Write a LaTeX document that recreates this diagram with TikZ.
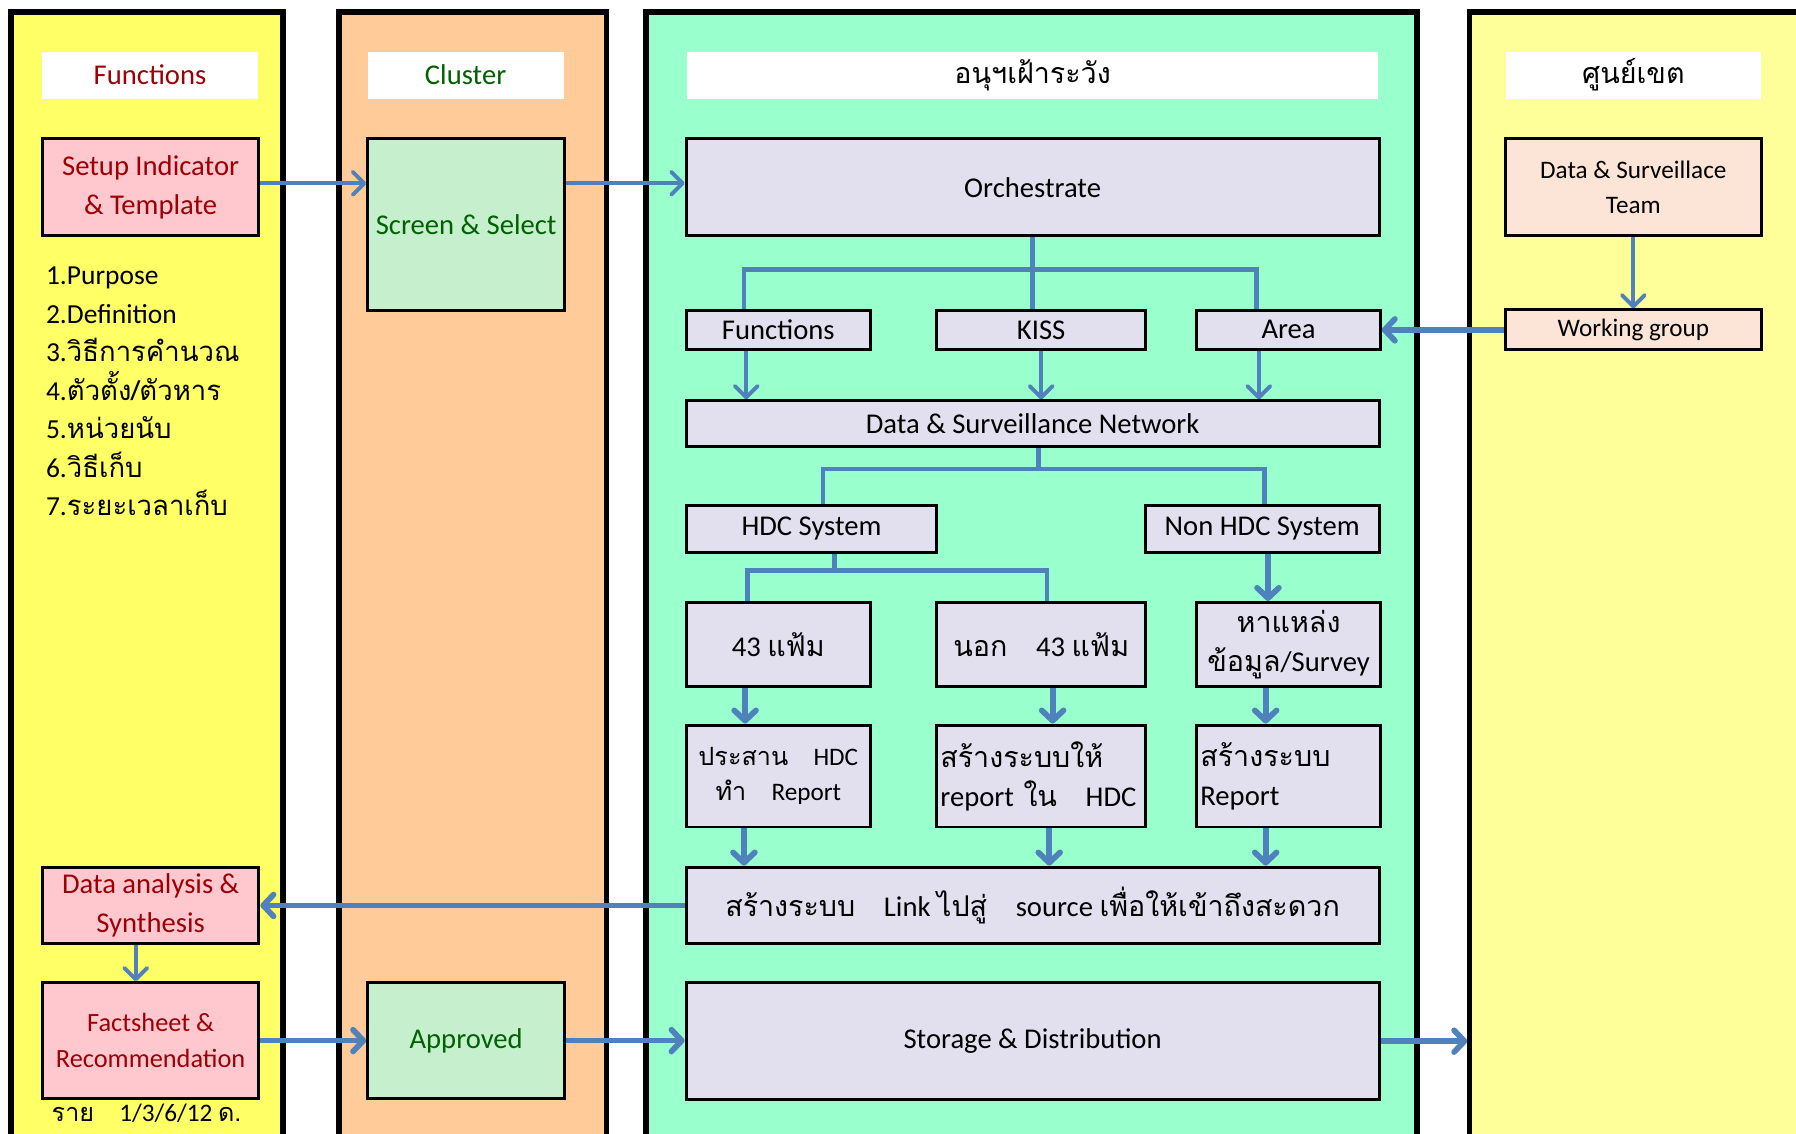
\documentclass[tikz,border=0pt]{standalone}
\usepackage{fontspec}
\setmainfont{Carlito}
\newfontfamily\thai[Script=Thai]{Loma}
\usetikzlibrary{arrows.meta,positioning}
\definecolor{funcyellow}{HTML}{FFFF66}
\definecolor{clusterorange}{HTML}{FFCC99}
\definecolor{survgreen}{HTML}{99FFCC}
\definecolor{zoneyellow}{HTML}{FFFF99}
\definecolor{pinkbox}{HTML}{FFC7CE}
\definecolor{pinktext}{HTML}{9C0006}
\definecolor{greenbox}{HTML}{C6EFCE}
\definecolor{greentext}{HTML}{006100}
\definecolor{lavender}{HTML}{E2E0EE}
\definecolor{peach}{HTML}{FCE4D6}
\definecolor{arrowblue}{HTML}{4F81BD}

\begin{document}
\begin{tikzpicture}[x=1pt,y=-1pt,
	col/.style={draw, line width=5pt},
	head/.style={fill=white, minimum height=41pt, inner sep=0pt, font=\fontsize{25}{30}\selectfont},
	box/.style={draw, line width=2.6pt, align=center, inner sep=1pt, font=\fontsize{25}{34}\selectfont},
	redbox/.style={box, fill=pinkbox, text=pinktext},
	grnbox/.style={box, fill=greenbox, text=greentext},
	lavbox/.style={box, fill=lavender},
	peachbox/.style={box, fill=peach, font=\fontsize{22}{31}\selectfont},
	link/.style={draw=arrowblue, line width=4pt},
	arr/.style={draw=arrowblue, line width=3.4pt, -{Straight Barb[length=10pt,width=20pt,round]}},
	arrthick/.style={draw=arrowblue, line width=5pt, -{Straight Barb[length=9pt,width=19pt,round]}}]
	\useasboundingbox (0,0) rectangle (1568,990);
	\clip (0,0) rectangle (1568,990);

	\draw[col, fill=funcyellow] (9.5,10.5) rectangle (247,1020);
	\draw[col, fill=clusterorange] (296,10.5) rectangle (529.5,1020);
	\draw[col, fill=survgreen] (564,10.5) rectangle (1237,1020);
	\draw[col, fill=zoneyellow] (1283,10.5) rectangle (1620,1020);
	\coordinate (zone) at (1281,907);

	\node[head, minimum width=188pt, text=pinktext] (hfun) at (131,65.5) {Functions};
	\node[head, minimum width=171pt, text=greentext] (hclu) at (406.5,65.5) {Cluster};
	\node[head, minimum width=603pt] (hsurv) at (901.5,65.5) {\thai อนุฯเฝ้าระวัง};
	\node[head, minimum width=222pt] (hzone) at (1426,65.5) {\thai ศูนย์เขต};

	\node[redbox, minimum width=189pt, minimum height=85pt] (setup) at (131.5,163.5) {Setup Indicator\\ \& Template};
	\node[anchor=north west, align=left, inner sep=0pt, font=\fontsize{24}{33.6}\selectfont] (items) at (40,233) {1.Purpose\\2.Definition\\3.{\thai วิธีการคำนวณ}\\4.{\thai ตัวตั้ง/ตัวหาร}\\5.{\thai หน่วยนับ}\\6.{\thai วิธีเก็บ}\\7.{\thai ระยะเวลาเก็บ}};
	\node[redbox, minimum width=189pt, minimum height=67pt] (ana) at (131.5,790.5) {Data analysis \&\\ Synthesis};
	\node[redbox, minimum width=189pt, minimum height=101pt, font=\fontsize{23}{31}\selectfont] (fact) at (131.5,908.5) {Factsheet \&\\ Recommendation};
	\node[font=\fontsize{22}{26}\selectfont] (freq) at (128,972) {{\thai ราย}\quad 1/3/6/12 {\thai ด.}};

	\node[grnbox, minimum width=172pt, minimum height=150pt] (screen) at (407,196) {Screen \& Select};
	\node[grnbox, minimum width=172pt, minimum height=101pt] (appr) at (407,908.5) {Approved};

	\node[lavbox, minimum width=605pt, minimum height=85pt] (orch) at (901.5,163.5) {Orchestrate};
	\node[lavbox, minimum width=161pt, minimum height=34pt] (fun) at (679.5,288) {Functions};
	\node[lavbox, minimum width=182pt, minimum height=34pt] (kiss) at (909,288) {KISS};
	\node[lavbox, minimum width=160pt, minimum height=34pt] (area) at (1125,288) {Area};
	\node[lavbox, minimum width=605pt, minimum height=40pt] (dsn) at (901.5,370) {Data \& Surveillance Network};
	\node[lavbox, minimum width=219pt, minimum height=41pt] (hdc) at (708.5,461.5) {HDC System};
	\node[lavbox, minimum width=204pt, minimum height=41pt] (nonhdc) at (1102,461.5) {Non HDC System};
	\node[lavbox, minimum width=161pt, minimum height=73pt] (f43) at (679.5,562.5) {43 {\thai แฟ้ม}};
	\node[lavbox, minimum width=182pt, minimum height=73pt] (out43) at (909,562.5) {{\thai นอก}\quad 43 {\thai แฟ้ม}};
	\node[lavbox, minimum width=160pt, minimum height=73pt] (survey) at (1125,562.5) {{\thai หาแหล่ง}\\{\thai ข้อมูล}/Survey};
	\node[lavbox, minimum width=161pt, minimum height=89pt, font=\fontsize{22}{31}\selectfont] (hdcrep) at (679.5,677.5) {{\thai ประสาน}\quad HDC\\{\thai ทำ}\quad Report};
	\node[lavbox, minimum width=182pt, minimum height=89pt, align=left, text width=176pt] (inhdc) at (909,677.5) {{\thai สร้างระบบให้}\\report {\thai ใน}\quad HDC};
	\node[lavbox, minimum width=160pt, minimum height=89pt, align=left, text width=154pt] (rep) at (1125,677.5) {{\thai สร้างระบบ}\\Report};
	\node[lavbox, minimum width=605pt, minimum height=67pt] (srcl) at (901.5,790.5) {{\thai สร้างระบบ}\quad Link {\thai ไปสู่}\quad source {\thai เพื่อให้เข้าถึงสะดวก}};
	\node[lavbox, minimum width=605pt, minimum height=102pt] (store) at (901.5,909) {Storage \& Distribution};

	\node[peachbox, minimum width=224pt, minimum height=85pt] (team) at (1426,163.5) {Data \& Surveillace\\Team};
	\node[peachbox, minimum width=224pt, minimum height=35pt] (wg) at (1426,288) {Working group};

	\draw[arr] (setup.east |- 0,160) -- (screen.west |- 0,160);
	\draw[arr] (screen.east |- 0,160) -- (orch.west |- 0,160);
	\draw[link] (orch.south) -- ++(0,28) coordinate (oj);
	\draw[link] ([xshift=-30pt]fun.north) |- (oj) -| ([xshift=-28pt]area.north);
	\draw[link] (oj) -- (oj |- kiss.north);
	\draw[arr] ([xshift=-28pt]fun.south) -- ([xshift=-28pt]fun.south |- dsn.north);
	\draw[arr] (kiss.south) -- (kiss.south |- dsn.north);
	\draw[arr] ([xshift=-26pt]area.south) -- ([xshift=-26pt]area.south |- dsn.north);
	\draw[arrthick] (wg.west) -- (area.east);
	\draw[arr] (team.south) -- (wg.north);

	\draw[link] ([xshift=5pt]dsn.south) -- ++(0,18) coordinate (dj);
	\draw[link] ([xshift=10pt]hdc.north) |- (dj) -| ([xshift=2pt]nonhdc.north);
	\draw[link] ([xshift=20pt]hdc.south) -- ++(0,15) coordinate (hj);
	\draw[link] ([xshift=-27pt]f43.north) |- (hj) -| ([xshift=5pt]out43.north);
	\draw[arrthick] ([xshift=5pt]nonhdc.south) -- ([xshift=5pt]nonhdc.south |- survey.north);

	\draw[arrthick] ([xshift=-29pt]f43.south) -- ([xshift=-29pt]f43.south |- hdcrep.north);
	\draw[arrthick] ([xshift=10pt]out43.south) -- ([xshift=10pt]out43.south |- inhdc.north);
	\draw[arrthick] ([xshift=-20pt]survey.south) -- ([xshift=-20pt]survey.south |- rep.north);
	\draw[arrthick] ([xshift=-30pt]hdcrep.south) -- ([xshift=-30pt]hdcrep.south |- srcl.north);
	\draw[arrthick] ([xshift=7pt]inhdc.south) -- ([xshift=7pt]inhdc.south |- srcl.north);
	\draw[arrthick] ([xshift=-20pt]rep.south) -- ([xshift=-20pt]rep.south |- srcl.north);

	\draw[arrthick] (srcl.west) -- (ana.east);
	\draw[arr] ([xshift=-13pt]ana.south) -- ([xshift=-13pt]fact.north);
	\draw[arrthick] (fact.east) -- (appr.west);
	\draw[arrthick] (appr.east) -- (appr.east -| store.west);
	\draw[arrthick] (store.east) -- (store.east -| zone);
\end{tikzpicture}
\end{document}
